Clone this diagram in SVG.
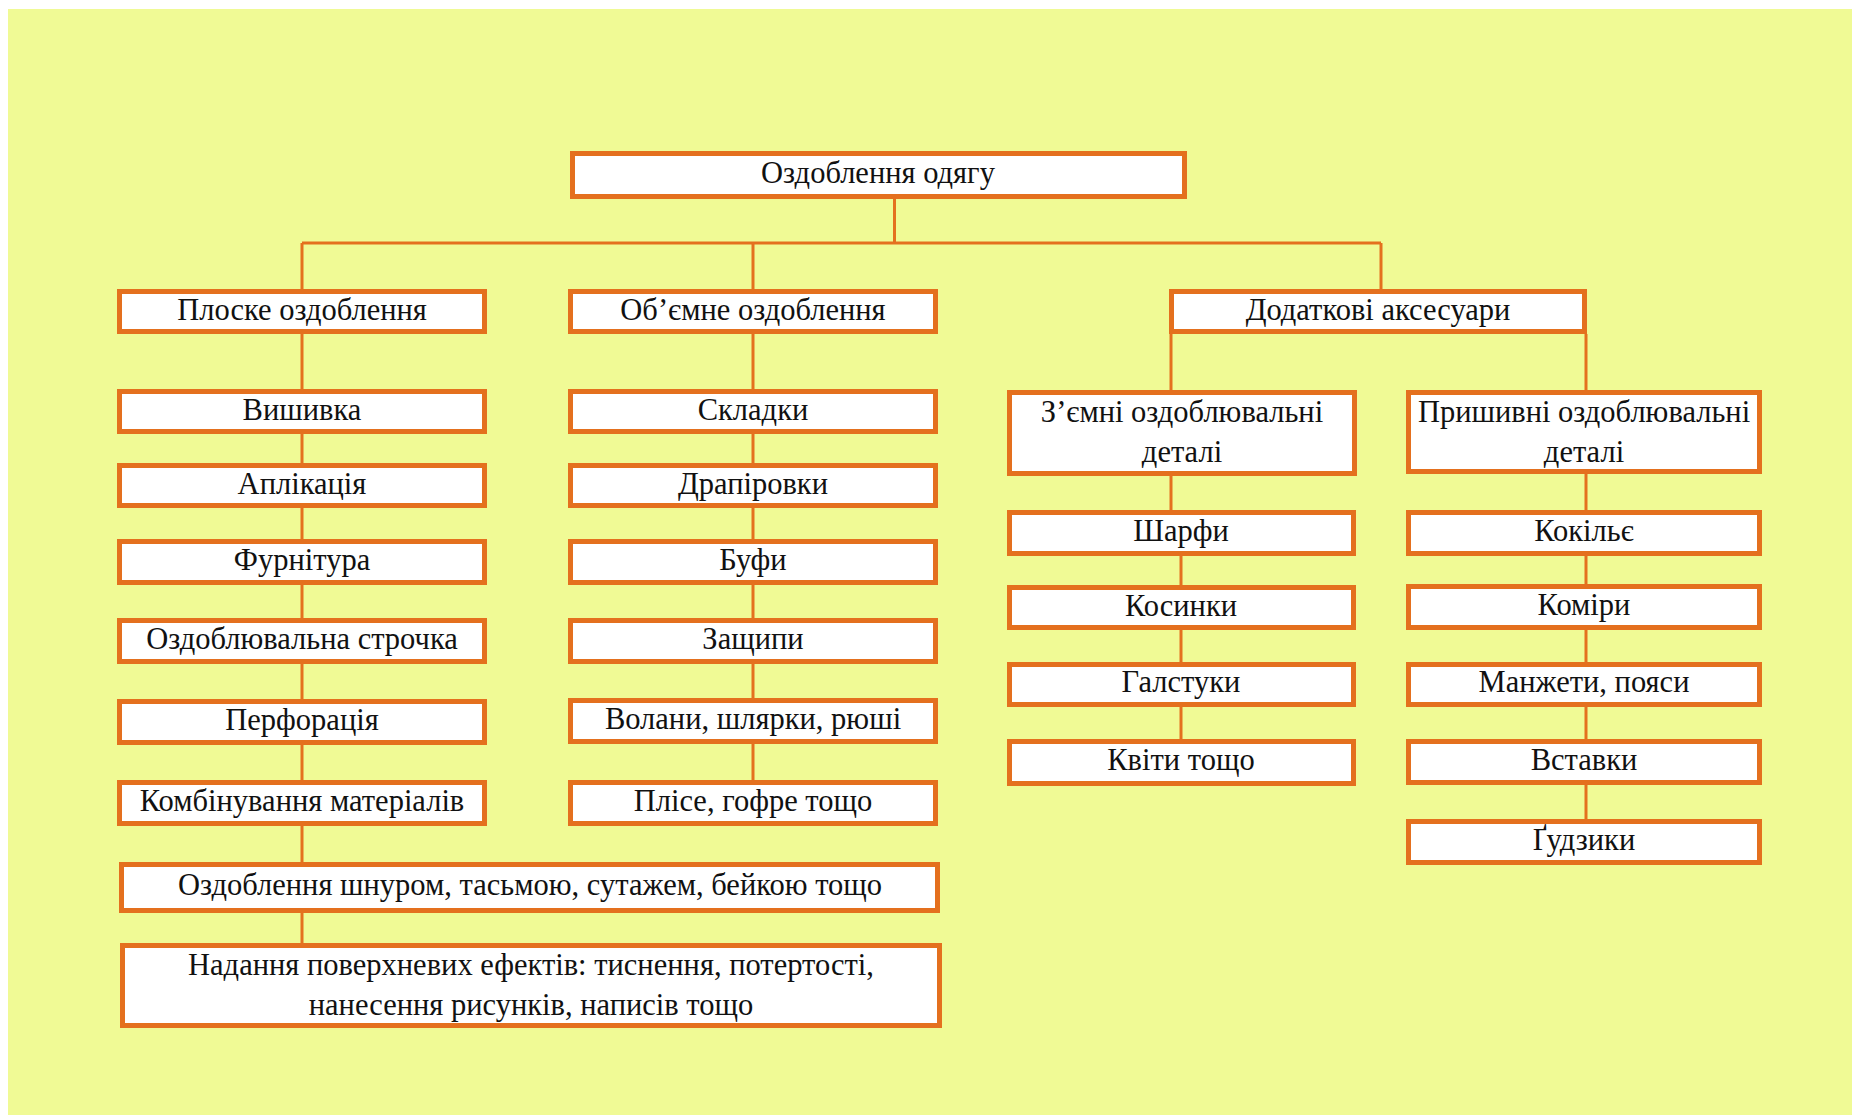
<svg xmlns="http://www.w3.org/2000/svg" width="1852" height="1115" viewBox="0 0 1852 1115">
<style>
.b{fill:#FFFFFF;stroke:#E4701E;stroke-width:5}
.t{font-family:"Liberation Serif","Times New Roman",serif;font-size:30.5px;fill:#111111;text-anchor:middle}
.c{stroke:#E4701E;stroke-width:3;fill:none}
</style>
<rect x="0" y="0" width="1852" height="1115" fill="#FFFFFF"/>
<rect x="8" y="9" width="1844" height="1106" fill="#F0FA95"/>
<g id="connectors">
<path class="c" d="M894.5 199V243M302 243H1381M302 243V943M753 243V780M1381 243V289M1171 334V510M1181 556V739M1586 334V819"/>
</g>
<g id="root"><rect class="b" x="572.5" y="153.5" width="612" height="43"/><text class="t" x="878" y="183">Оздоблення одягу</text></g>
<g id="ploske"><rect class="b" x="119.5" y="291.5" width="365" height="40"/><text class="t" x="302" y="319.5">Плоске оздоблення</text></g>
<g id="objemne"><rect class="b" x="570.5" y="291.5" width="365" height="40"/><text class="t" x="753" y="319.5">Об’ємне оздоблення</text></g>
<g id="dodatkovi"><rect class="b" x="1171.5" y="291.5" width="413" height="40"/><text class="t" x="1378" y="319.5">Додаткові аксесуари</text></g>
<g id="vyshyvka"><rect class="b" x="119.5" y="391.5" width="365" height="40"/><text class="t" x="302" y="420">Вишивка</text></g>
<g id="aplikatsiia"><rect class="b" x="119.5" y="465.5" width="365" height="40"/><text class="t" x="302" y="494">Аплікація</text></g>
<g id="furnitura"><rect class="b" x="119.5" y="541.5" width="365" height="41"/><text class="t" x="302" y="570">Фурнітура</text></g>
<g id="strochka"><rect class="b" x="119.5" y="620.5" width="365" height="41"/><text class="t" x="302" y="649">Оздоблювальна строчка</text></g>
<g id="perforatsiia"><rect class="b" x="119.5" y="701.5" width="365" height="41"/><text class="t" x="302" y="730">Перфорація</text></g>
<g id="kombinuvannia"><rect class="b" x="119.5" y="782.5" width="365" height="41"/><text class="t" x="302" y="811">Комбінування матеріалів</text></g>
<g id="skladky"><rect class="b" x="570.5" y="391.5" width="365" height="40"/><text class="t" x="753" y="420">Складки</text></g>
<g id="drapirovky"><rect class="b" x="570.5" y="465.5" width="365" height="40"/><text class="t" x="753" y="494">Драпіровки</text></g>
<g id="bufy"><rect class="b" x="570.5" y="541.5" width="365" height="41"/><text class="t" x="753" y="570">Буфи</text></g>
<g id="zashchypy"><rect class="b" x="570.5" y="620.5" width="365" height="41"/><text class="t" x="753" y="649">Защипи</text></g>
<g id="volany"><rect class="b" x="570.5" y="700.5" width="365" height="41"/><text class="t" x="753" y="729">Волани, шлярки, рюші</text></g>
<g id="plise"><rect class="b" x="570.5" y="782.5" width="365" height="41"/><text class="t" x="753" y="811">Плісе, гофре тощо</text></g>
<g id="shnur"><rect class="b" x="121.5" y="864.5" width="816" height="46"/><text class="t" x="530" y="894.5">Оздоблення шнуром, тасьмою, сутажем, бейкою тощо</text></g>
<g id="nadannia"><rect class="b" x="122.5" y="945.5" width="817" height="80"/><text class="t" x="531" y="975">Надання поверхневих ефектів: тиснення, потертості,</text><text class="t" x="531" y="1015">нанесення рисунків, написів тощо</text></g>
<g id="zjemni"><rect class="b" x="1009.5" y="392.5" width="345" height="81"/><text class="t" x="1182" y="422">З’ємні оздоблювальні</text><text class="t" x="1182" y="462">деталі</text></g>
<g id="pryshyvni"><rect class="b" x="1408.5" y="392.5" width="351" height="79"/><text class="t" x="1584" y="422">Пришивні оздоблювальні</text><text class="t" x="1584" y="462">деталі</text></g>
<g id="sharfy"><rect class="b" x="1009.5" y="512.5" width="344" height="41"/><text class="t" x="1181" y="541">Шарфи</text></g>
<g id="kosynky"><rect class="b" x="1009.5" y="587.5" width="344" height="40"/><text class="t" x="1181" y="615.5">Косинки</text></g>
<g id="galstuky"><rect class="b" x="1009.5" y="664.5" width="344" height="40"/><text class="t" x="1181" y="692">Галстуки</text></g>
<g id="kvity"><rect class="b" x="1009.5" y="741.5" width="344" height="42"/><text class="t" x="1181" y="770">Квіти тощо</text></g>
<g id="kokilie"><rect class="b" x="1408.5" y="512.5" width="351" height="41"/><text class="t" x="1584" y="541">Кокільє</text></g>
<g id="komiry"><rect class="b" x="1408.5" y="586.5" width="351" height="41"/><text class="t" x="1584" y="615">Коміри</text></g>
<g id="manzhety"><rect class="b" x="1408.5" y="664.5" width="351" height="40"/><text class="t" x="1584" y="692">Манжети, пояси</text></g>
<g id="vstavky"><rect class="b" x="1408.5" y="741.5" width="351" height="41"/><text class="t" x="1584" y="769.5">Вставки</text></g>
<g id="gudzyky"><rect class="b" x="1408.5" y="821.5" width="351" height="41"/><text class="t" x="1584" y="849.5">Ґудзики</text></g>
</svg>
